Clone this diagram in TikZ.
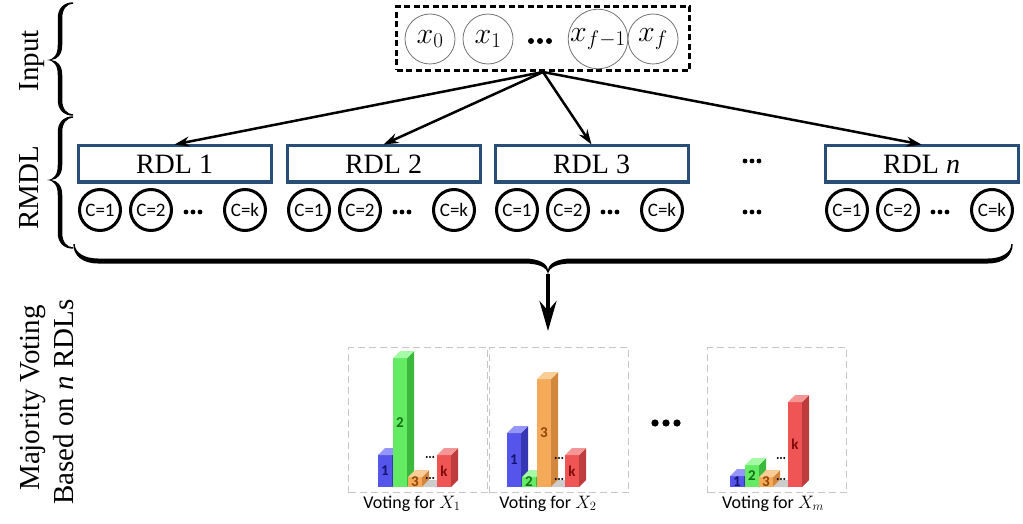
\RequirePackage{fix-cm}
\documentclass[tikz,border=0pt]{standalone}
\usepackage{fontspec}
\setmainfont{Liberation Serif}
\newfontfamily\carlito{Carlito}
\usetikzlibrary{arrows.meta}
\definecolor{rdlblue}{RGB}{40,78,120}
\definecolor{bfront}{RGB}{85,85,235}\definecolor{bside}{RGB}{55,55,180}\definecolor{btop}{RGB}{150,150,250}\definecolor{blabel}{RGB}{20,20,110}
\definecolor{gfront}{RGB}{100,235,100}\definecolor{gside}{RGB}{60,185,60}\definecolor{gtop}{RGB}{165,250,165}\definecolor{glabel}{RGB}{20,110,20}
\definecolor{ofront}{RGB}{245,170,90}\definecolor{oside}{RGB}{210,135,60}\definecolor{otop}{RGB}{250,205,150}\definecolor{olabel}{RGB}{140,70,10}
\definecolor{rfront}{RGB}{240,85,85}\definecolor{rside}{RGB}{190,60,60}\definecolor{rtop}{RGB}{245,150,150}\definecolor{rlabel}{RGB}{130,10,10}
\newcommand\vbar[6]{% x, top, front, side, top, label colour
  \fill[#3] (#1,#2) rectangle ({#1+14},487);
  \fill[#4] ({#1+14},#2) -- ({#1+21},{#2-7}) -- ({#1+21},480) -- ({#1+14},487) -- cycle;
  \fill[#5] (#1,#2) -- ({#1+7},{#2-7}) -- ({#1+21},{#2-7}) -- ({#1+14},#2) -- cycle;
  \node[barlab,text=#6] at ({#1+7},{(#2+487)/2}) {\vbarlabel};
}
\newcommand\floordots[2]{\foreach \dx in {-3.2,0,3.2}{\fill ({#1+7+\dx},#2) circle (1.1);}}
\newcommand\gbase[1]{\fill[black!20] (#1,487) -- ({#1+7},480) -- ({#1+15},480) -- ({#1+15},487) -- cycle;}
% tapered brace in local coordinates: ends (0,0),(L,0); tip (m,a)
\newcommand\tbrace[6]{% L, m, a, t, h, r
 \pgfmathsetmacro\bup{#5-#4/2}\pgfmathsetmacro\blo{#5+#4/2}
 \pgfmathsetmacro\bnot{#3-#4*0.9}
 \pgfmathsetmacro\bmL{#2-#6}\pgfmathsetmacro\bmR{#2+#6}\pgfmathsetmacro\bE{#1-#6}
 \fill (0.7,0) .. controls (0.7,{\bup*0.55}) and ({#6*0.4},\bup) .. (#6,\bup)
  -- (\bmL,\bup) .. controls ({#2-#6*0.4},\bup) and ({#2-0.3},{\bup+(\bnot-\bup)*0.4}) .. (#2,\bnot)
  .. controls ({#2+0.3},{\bup+(\bnot-\bup)*0.4}) and ({#2+#6*0.4},\bup) .. (\bmR,\bup)
  -- (\bE,\bup) .. controls ({#1-#6*0.4},\bup) and ({#1-0.7},{\bup*0.55}) .. ({#1-0.7},0)
  -- ({#1+0.7},0) .. controls ({#1+0.7},{\blo*0.6}) and ({#1-#6*0.35},\blo) .. (\bE,\blo)
  -- (\bmR,\blo) .. controls ({#2+#6*0.4},\blo) and ({#2+0.4},{\blo+(#3-\blo)*0.3}) .. (#2,#3)
  .. controls ({#2-0.4},{\blo+(#3-\blo)*0.3}) and ({#2-#6*0.4},\blo) .. (\bmL,\blo)
  -- (#6,\blo) .. controls ({#6*0.35},\blo) and (-0.7,{\blo*0.6}) .. (-0.7,0) -- cycle;
}
\begin{document}
\begin{tikzpicture}[x=1pt,y=-1pt,
  inbox/.style={draw,dashed,dash pattern=on 6pt off 3.5pt,line width=3pt,minimum width=293pt,minimum height=64pt,inner sep=0pt},
  incirc/.style={circle,draw=black!55,line width=0.8pt,minimum size=50pt,inner sep=0pt,font=\fontsize{30}{30}\selectfont},
  rdl/.style={draw=rdlblue,fill=white,line width=3pt,minimum width=193pt,minimum height=36pt,inner sep=0pt,font=\fontsize{28}{28}\selectfont},
  cls/.style={circle,draw,line width=3pt,minimum size=41pt,inner sep=0pt,font=\carlito\fontsize{19}{19}\selectfont},
  arr/.style={line width=2.5pt,-{Stealth[length=15pt,width=10pt]}},
  side/.style={rotate=90,anchor=base,font=\fontsize{29}{29}\selectfont},
  panel/.style={draw=black!22,dashed,dash pattern=on 7pt off 4pt,line width=1pt,minimum width=139pt,minimum height=145pt,inner sep=0pt},
  vlab/.style={font=\carlito\fontsize{18}{18}\selectfont,anchor=base},
  barlab/.style={font=\carlito\bfseries\fontsize{15}{15}\selectfont,inner sep=0pt}
]
\useasboundingbox (0,0) rectangle (1023,524);
% left labels
\node[side] (linput) at (38,61) {Input};
\node[side] (lrmdl) at (38,188) {RMDL};
\node[side] (lmaj) at (39,398) {Majority Voting};
\node[side] (lbased) at (73,402) {Based on \textit{n} RDLs};
% braces
\begin{scope}[shift={(73,3)},x={(0pt,-1pt)},y={(-1pt,0pt)}]
  \tbrace{112}{57}{26}{4.5}{13}{15}
\end{scope}
\begin{scope}[shift={(73,117)},x={(0pt,-1pt)},y={(-1pt,0pt)}]
  \tbrace{131}{63}{26}{4.5}{13}{15}
\end{scope}
\begin{scope}[shift={(74,244)}]
  \tbrace{938}{474}{31}{5}{17}{24}
\end{scope}
% input
\node[inbox] (in) at (543,38.5) {};
\node[incirc] (x0) at (430,39) {$x_0$};
\node[incirc] (x1) at (488,39) {$x_1$};
\node[incirc] (xf1) at (598,39) {$x_{f-1}$};
\node[incirc] (xf) at (653,39) {$x_f$};
\foreach \dx in {-9,0,9}{\fill (540+\dx,41) circle (3);}
% RDL boxes
\foreach \L/\lab/\i in {75/{RDL 1}/1,284/{RDL 2}/2,492/{RDL 3}/3,822/{RDL \textit{n}}/n}{
  \node[rdl,anchor=north west] (rdl\i) at (\L+1.5,144.5) {\lab};
  \node[cls] (c\i a) at (\L+25,210) {C=1};
  \node[cls] (c\i b) at (\L+76,210) {C=2};
  \node[cls] (c\i k) at (\L+170,210) {C=k};
  \foreach \dx in {-7,0,7}{\fill (\L+118+\dx,212) circle (2.4);}
}
\foreach \dx in {-7,0,7}{\fill (752+\dx,161) circle (2.4); \fill (752+\dx,212) circle (2.4);}
% arrows
\draw[arr] (in.south) -- (rdl1.north);
\draw[arr] (in.south) -- (rdl2.north);
\draw[arr] (in.south) -- (rdl3.north);
\draw[arr] (in.south) -- (rdln.north);
\coordinate (btip) at (548,274);
\coordinate (vtop) at (548,331);
\draw[line width=4pt,-{Stealth[length=30pt,width=17pt]}] (btip) -- (vtop);
% panels
\node[panel,anchor=north west] (p1) at (348,347) {};
\node[panel,anchor=north west] (p2) at (489,347) {};
\node[panel,anchor=north west] (p3) at (707,347) {};
\node[vlab] (v1) at (412,508) {Voting for $X_1$};
\node[vlab] (v2) at (548,508) {Voting for $X_2$};
\node[vlab] (v3) at (773,508) {Voting for $X_m$};
\foreach \dx in {-11,0,11}{\fill (666+\dx,423) circle (3.6);}
% panel 1 bars
\def\vbarlabel{1}\vbar{378}{455}{bfront}{bside}{btop}{blabel}
\def\vbarlabel{2}\vbar{393}{358}{gfront}{gside}{gtop}{glabel}
\def\vbarlabel{3}\vbar{408}{477}{ofront}{oside}{otop}{olabel}
\gbase{422}\floordots{423}{457}\floordots{423}{478}
\def\vbarlabel{k}\vbar{437}{455}{rfront}{rside}{rtop}{rlabel}
% panel 2 bars
\def\vbarlabel{1}\vbar{507}{433}{bfront}{bside}{btop}{blabel}
\def\vbarlabel{2}\vbar{522}{477}{gfront}{gside}{gtop}{glabel}
\def\vbarlabel{3}\vbar{537}{379}{ofront}{oside}{otop}{olabel}
\gbase{551}\floordots{552}{458}\floordots{552}{479}
\def\vbarlabel{k}\vbar{565}{455}{rfront}{rside}{rtop}{rlabel}
% panel 3 bars
\def\vbarlabel{1}\vbar{730}{476}{bfront}{bside}{btop}{blabel}
\def\vbarlabel{2}\vbar{745}{465}{gfront}{gside}{gtop}{glabel}
\def\vbarlabel{3}\vbar{759}{477}{ofront}{oside}{otop}{olabel}
\gbase{773}\floordots{774}{458}\floordots{774}{479}
\def\vbarlabel{k}\vbar{788}{402}{rfront}{rside}{rtop}{rlabel}
\end{tikzpicture}
\end{document}
